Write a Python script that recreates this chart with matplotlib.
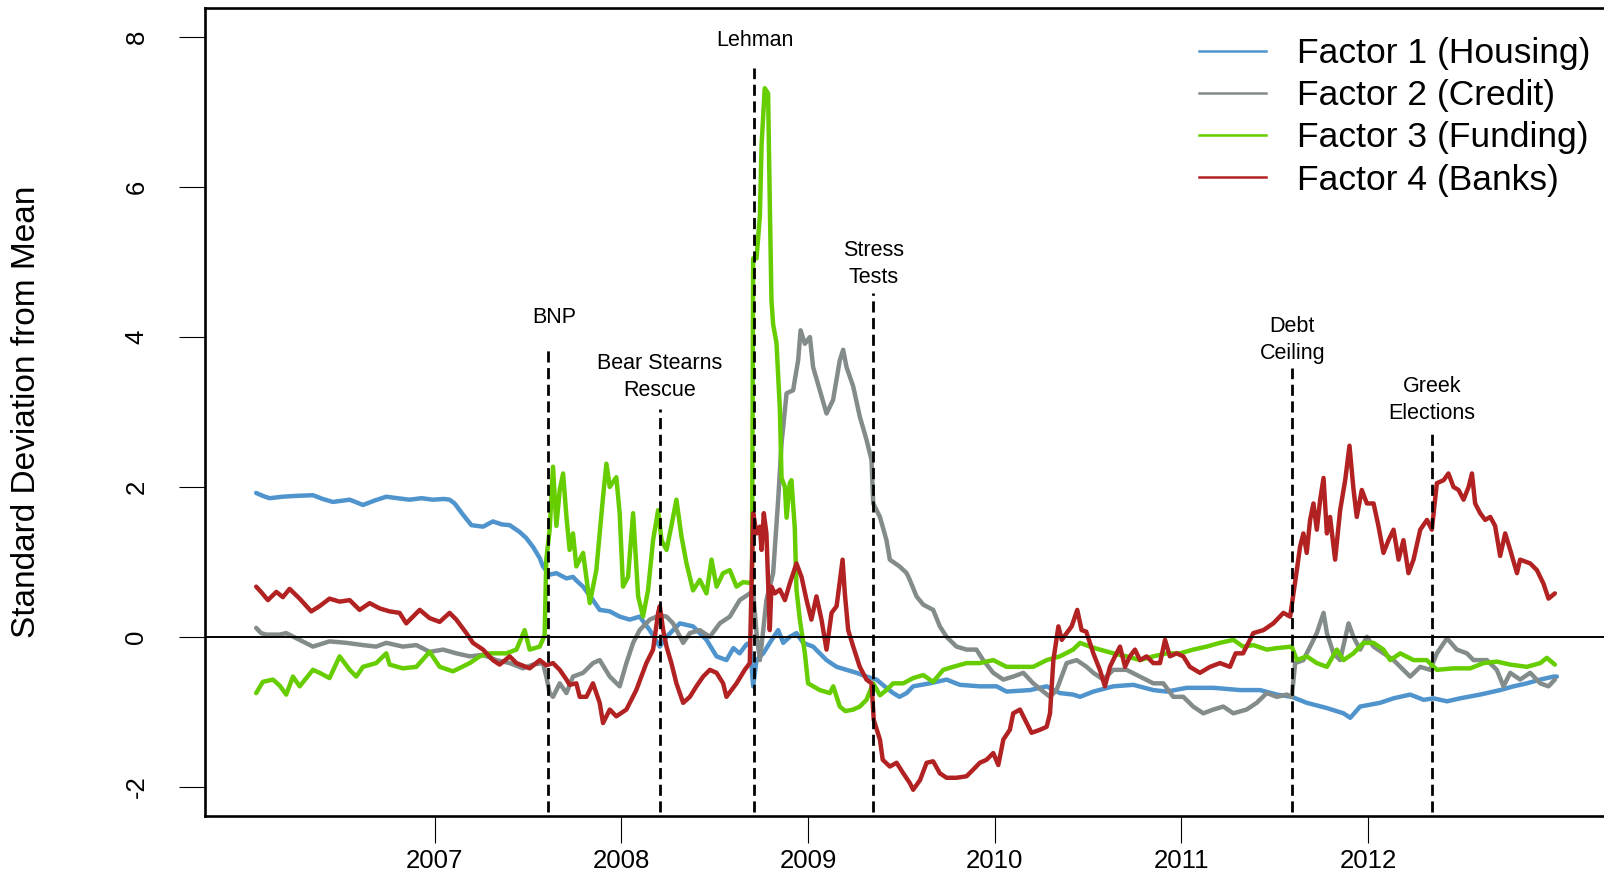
import numpy as np
import matplotlib.pyplot as plt
from matplotlib.lines import Line2D

plt.rcParams['font.family'] = ['Liberation Sans', 'DejaVu Sans']

# factor scores, decimal year vs. standard deviations from mean
housing_t = [2006.044, 2006.08, 2006.116, 2006.187, 2006.25, 2006.348, 2006.40, 2006.455, 2006.545,
             2006.616, 2006.68, 2006.741, 2006.80, 2006.866, 2006.93, 2006.99, 2007.05, 2007.08,
             2007.107, 2007.152, 2007.197, 2007.259, 2007.312, 2007.36, 2007.402, 2007.455, 2007.49,
             2007.527, 2007.563, 2007.58, 2007.616, 2007.652, 2007.706, 2007.741, 2007.76, 2007.795,
             2007.848, 2007.884, 2007.938, 2007.991, 2008.045, 2008.098, 2008.152, 2008.206, 2008.242,
             2008.313, 2008.384, 2008.456, 2008.51, 2008.563, 2008.60, 2008.634, 2008.67, 2008.688,
             2008.706, 2008.724, 2008.76, 2008.795, 2008.84, 2008.867, 2008.902, 2008.938, 2008.974,
             2009.027, 2009.063, 2009.099, 2009.153, 2009.206, 2009.26, 2009.313, 2009.367, 2009.41,
             2009.456, 2009.49, 2009.528, 2009.563, 2009.652, 2009.742, 2009.813, 2009.92, 2010.01,
             2010.063, 2010.189, 2010.278, 2010.349, 2010.42, 2010.457, 2010.528, 2010.635, 2010.742,
             2010.849, 2010.921, 2011.028, 2011.171, 2011.314, 2011.421, 2011.511, 2011.591, 2011.671,
             2011.779, 2011.868, 2011.904, 2011.957, 2012.064, 2012.136, 2012.225, 2012.297, 2012.35,
             2012.422, 2012.493, 2012.6, 2012.707, 2012.779, 2012.85, 2012.922, 2012.993, 2013.011]
housing_v = [1.92, 1.88, 1.85, 1.87, 1.88, 1.89, 1.84, 1.80, 1.83,
             1.76, 1.82, 1.87, 1.85, 1.83, 1.85, 1.83, 1.84, 1.83,
             1.78, 1.63, 1.49, 1.47, 1.54, 1.50, 1.49, 1.40, 1.32,
             1.20, 1.05, 0.94, 0.83, 0.85, 0.78, 0.80, 0.75, 0.67,
             0.49, 0.36, 0.34, 0.27, 0.23, 0.27, 0.09, -0.13, 0.00,
             0.18, 0.14, -0.04, -0.26, -0.31, -0.15, -0.22, -0.10, -0.08,
             -0.66, -0.31, -0.22, -0.08, 0.09, -0.08, 0.00, 0.05, -0.08,
             -0.13, -0.22, -0.31, -0.40, -0.44, -0.48, -0.53, -0.57, -0.66,
             -0.75, -0.80, -0.75, -0.66, -0.62, -0.57, -0.64, -0.66, -0.66,
             -0.73, -0.71, -0.66, -0.75, -0.77, -0.80, -0.73, -0.66, -0.64,
             -0.71, -0.73, -0.68, -0.68, -0.71, -0.71, -0.77, -0.80, -0.88,
             -0.95, -1.02, -1.08, -0.93, -0.88, -0.82, -0.77, -0.84, -0.82,
             -0.86, -0.82, -0.77, -0.71, -0.66, -0.62, -0.57, -0.53, -0.53]

credit_t = [2006.044, 2006.07, 2006.098, 2006.169, 2006.205, 2006.277, 2006.348, 2006.437, 2006.527,
            2006.616, 2006.687, 2006.741, 2006.83, 2006.902, 2006.973, 2007.045, 2007.116, 2007.188,
            2007.259, 2007.331, 2007.402, 2007.473, 2007.527, 2007.58, 2007.598, 2007.616, 2007.634,
            2007.67, 2007.706, 2007.741, 2007.795, 2007.848, 2007.884, 2007.938, 2007.991, 2008.027,
            2008.063, 2008.098, 2008.152, 2008.206, 2008.242, 2008.277, 2008.331, 2008.367, 2008.42,
            2008.474, 2008.527, 2008.581, 2008.634, 2008.688, 2008.706, 2008.724, 2008.742, 2008.76,
            2008.777, 2008.813, 2008.84, 2008.858, 2008.885, 2008.92, 2008.947, 2008.96, 2008.983,
            2009.01, 2009.027, 2009.063, 2009.099, 2009.134, 2009.17, 2009.188, 2009.206, 2009.242,
            2009.277, 2009.313, 2009.34, 2009.349, 2009.385, 2009.42, 2009.438, 2009.49, 2009.528,
            2009.545, 2009.581, 2009.617, 2009.67, 2009.706, 2009.742, 2009.795, 2009.849, 2009.902,
            2009.938, 2009.992, 2010.046, 2010.099, 2010.153, 2010.206, 2010.26, 2010.296, 2010.331,
            2010.385, 2010.439, 2010.492, 2010.528, 2010.581, 2010.635, 2010.706, 2010.778, 2010.849,
            2010.903, 2010.956, 2011.01, 2011.063, 2011.117, 2011.171, 2011.224, 2011.278, 2011.349,
            2011.403, 2011.457, 2011.511, 2011.564, 2011.591, 2011.609, 2011.653, 2011.689, 2011.725,
            2011.761, 2011.779, 2011.814, 2011.85, 2011.895, 2011.921, 2011.957, 2011.993, 2012.029,
            2012.082, 2012.136, 2012.189, 2012.225, 2012.279, 2012.332, 2012.368, 2012.422, 2012.475,
            2012.529, 2012.564, 2012.636, 2012.689, 2012.725, 2012.761, 2012.814, 2012.868, 2012.922,
            2012.966, 2013.0]
credit_v = [0.12, 0.05, 0.03, 0.03, 0.05, -0.04, -0.13, -0.06, -0.08,
            -0.11, -0.13, -0.08, -0.13, -0.11, -0.20, -0.17, -0.22, -0.26,
            -0.24, -0.31, -0.35, -0.42, -0.37, -0.35, -0.53, -0.75, -0.80,
            -0.62, -0.75, -0.53, -0.48, -0.35, -0.31, -0.53, -0.66, -0.35,
            -0.08, 0.09, 0.23, 0.29, 0.27, 0.18, -0.08, 0.05, 0.09,
            0.00, 0.18, 0.27, 0.49, 0.58, 0.60, 0.05, -0.31, 0.09,
            0.49, 0.85, 1.83, 2.58, 3.25, 3.29, 3.69, 4.09, 3.91,
            4.00, 3.60, 3.29, 2.98, 3.16, 3.69, 3.83, 3.60, 3.34,
            2.94, 2.63, 2.36, 1.78, 1.60, 1.29, 1.03, 0.94, 0.85,
            0.76, 0.54, 0.43, 0.36, 0.14, 0.00, -0.13, -0.17, -0.17,
            -0.31, -0.48, -0.57, -0.53, -0.48, -0.62, -0.73, -0.80, -0.71,
            -0.35, -0.31, -0.40, -0.48, -0.57, -0.44, -0.44, -0.53, -0.62,
            -0.62, -0.80, -0.80, -0.93, -1.02, -0.97, -0.93, -1.02, -0.97,
            -0.88, -0.75, -0.80, -0.77, -0.80, -0.35, -0.31, -0.13, 0.05,
            0.32, 0.05, -0.22, -0.31, 0.18, 0.00, -0.17, 0.00, -0.13,
            -0.22, -0.31, -0.44, -0.53, -0.40, -0.44, -0.22, -0.02, -0.17,
            -0.22, -0.31, -0.31, -0.44, -0.66, -0.48, -0.57, -0.48, -0.62,
            -0.66, -0.57]

funding_t = [2006.044, 2006.08, 2006.134, 2006.17, 2006.205, 2006.241, 2006.277, 2006.348, 2006.384,
             2006.437, 2006.491, 2006.545, 2006.58, 2006.616, 2006.687, 2006.741, 2006.759, 2006.83,
             2006.902, 2006.973, 2007.027, 2007.098, 2007.188, 2007.241, 2007.295, 2007.384, 2007.438,
             2007.482, 2007.509, 2007.563, 2007.589, 2007.598, 2007.616, 2007.634, 2007.652, 2007.67,
             2007.688, 2007.706, 2007.723, 2007.741, 2007.759, 2007.795, 2007.831, 2007.866, 2007.902,
             2007.92, 2007.938, 2007.973, 2007.991, 2008.009, 2008.036, 2008.063, 2008.09, 2008.116,
             2008.143, 2008.17, 2008.197, 2008.215, 2008.242, 2008.268, 2008.295, 2008.322, 2008.349,
             2008.384, 2008.42, 2008.456, 2008.483, 2008.51, 2008.545, 2008.581, 2008.617, 2008.652,
             2008.688, 2008.70, 2008.706, 2008.724, 2008.742, 2008.751, 2008.768, 2008.786, 2008.795,
             2008.804, 2008.813, 2008.831, 2008.849, 2008.858, 2008.876, 2008.885, 2008.902, 2008.911,
             2008.929, 2008.938, 2008.956, 2008.983, 2009.0, 2009.063, 2009.117, 2009.135, 2009.17,
             2009.2, 2009.242, 2009.277, 2009.313, 2009.349, 2009.385, 2009.42, 2009.456, 2009.51,
             2009.563, 2009.617, 2009.67, 2009.724, 2009.777, 2009.849, 2009.92, 2009.992, 2010.063,
             2010.135, 2010.206, 2010.278, 2010.349, 2010.42, 2010.457, 2010.51, 2010.563, 2010.635,
             2010.706, 2010.778, 2010.849, 2010.921, 2010.992, 2011.063, 2011.135, 2011.206, 2011.278,
             2011.33, 2011.385, 2011.457, 2011.511, 2011.591, 2011.618, 2011.671, 2011.725, 2011.779,
             2011.832, 2011.868, 2011.921, 2011.975, 2012.029, 2012.082, 2012.118, 2012.172, 2012.243,
             2012.314, 2012.368, 2012.457, 2012.547, 2012.618, 2012.689, 2012.761, 2012.85, 2012.922,
             2012.957, 2013.0]
funding_v = [-0.75, -0.60, -0.57, -0.65, -0.77, -0.53, -0.66, -0.44, -0.48,
             -0.55, -0.26, -0.44, -0.53, -0.40, -0.35, -0.22, -0.37, -0.42,
             -0.40, -0.20, -0.40, -0.46, -0.35, -0.26, -0.22, -0.22, -0.17,
             0.09, -0.17, -0.13, 0.02, 1.03, 1.43, 2.27, 1.48, 1.96,
             2.18, 1.60, 1.16, 1.38, 0.94, 1.12, 0.45, 0.89, 1.87,
             2.31, 2.00, 2.13, 1.65, 0.67, 0.80, 1.65, 0.54, 0.27,
             0.62, 1.29, 1.69, 1.29, 1.16, 1.48, 1.83, 1.34, 0.98,
             0.62, 0.76, 0.58, 1.03, 0.67, 0.85, 0.89, 0.67, 0.73,
             0.72, 0.75, 5.05, 5.05, 5.62, 6.56, 7.32, 7.25, 5.81,
             4.49, 4.17, 3.92, 3.04, 2.12, 2.00, 1.59, 2.05, 2.09,
             1.45, 0.63, 0.23, -0.22, -0.62, -0.71, -0.75, -0.66, -0.93,
             -0.99, -0.97, -0.93, -0.84, -0.62, -0.78, -0.71, -0.62, -0.62,
             -0.55, -0.51, -0.60, -0.44, -0.40, -0.35, -0.35, -0.31, -0.40,
             -0.40, -0.40, -0.31, -0.26, -0.17, -0.08, -0.13, -0.17, -0.22,
             -0.26, -0.31, -0.26, -0.22, -0.22, -0.17, -0.13, -0.08, -0.04,
             -0.13, -0.11, -0.17, -0.15, -0.13, -0.31, -0.26, -0.35, -0.40,
             -0.17, -0.31, -0.22, -0.08, -0.08, -0.17, -0.31, -0.22, -0.31,
             -0.31, -0.44, -0.42, -0.42, -0.35, -0.33, -0.37, -0.40, -0.35,
             -0.28, -0.37]

banks_t = [2006.044, 2006.07, 2006.107, 2006.152, 2006.187, 2006.223, 2006.277, 2006.339, 2006.384,
           2006.437, 2006.491, 2006.545, 2006.598, 2006.652, 2006.705, 2006.759, 2006.812, 2006.848,
           2006.92, 2006.973, 2007.027, 2007.08, 2007.116, 2007.17, 2007.205, 2007.259, 2007.312,
           2007.348, 2007.402, 2007.438, 2007.509, 2007.563, 2007.598, 2007.634, 2007.67, 2007.706,
           2007.723, 2007.759, 2007.777, 2007.813, 2007.848, 2007.884, 2007.902, 2007.938, 2007.973,
           2008.027, 2008.08, 2008.134, 2008.17, 2008.197, 2008.206, 2008.224, 2008.242, 2008.268,
           2008.295, 2008.331, 2008.367, 2008.402, 2008.438, 2008.474, 2008.51, 2008.545, 2008.563,
           2008.617, 2008.661, 2008.688, 2008.706, 2008.724, 2008.742, 2008.751, 2008.763, 2008.777,
           2008.795, 2008.804, 2008.822, 2008.849, 2008.876, 2008.902, 2008.938, 2008.965, 2008.992,
           2009.018, 2009.045, 2009.072, 2009.099, 2009.126, 2009.153, 2009.185, 2009.197, 2009.215,
           2009.242, 2009.277, 2009.313, 2009.34, 2009.352, 2009.385, 2009.40, 2009.438, 2009.474,
           2009.51, 2009.545, 2009.563, 2009.6, 2009.635, 2009.67, 2009.706, 2009.742, 2009.795,
           2009.849, 2009.885, 2009.92, 2009.956, 2009.992, 2010.019, 2010.046, 2010.081, 2010.099,
           2010.135, 2010.171, 2010.197, 2010.242, 2010.278, 2010.296, 2010.314, 2010.341, 2010.359,
           2010.385, 2010.412, 2010.442, 2010.465, 2010.49, 2010.528, 2010.563, 2010.59, 2010.617,
           2010.644, 2010.671, 2010.698, 2010.724, 2010.751, 2010.778, 2010.813, 2010.849, 2010.885,
           2010.912, 2010.938, 2010.974, 2011.01, 2011.045, 2011.099, 2011.153, 2011.206, 2011.26,
           2011.29, 2011.33, 2011.385, 2011.439, 2011.492, 2011.546, 2011.582, 2011.6, 2011.618,
           2011.635, 2011.653, 2011.671, 2011.689, 2011.707, 2011.725, 2011.743, 2011.761, 2011.779,
           2011.796, 2011.823, 2011.85, 2011.877, 2011.9, 2011.921, 2011.939, 2011.966, 2011.993,
           2012.029, 2012.055, 2012.082, 2012.109, 2012.136, 2012.163, 2012.189, 2012.216, 2012.243,
           2012.279, 2012.315, 2012.341, 2012.368, 2012.404, 2012.43, 2012.457, 2012.484, 2012.511,
           2012.538, 2012.556, 2012.573, 2012.6, 2012.627, 2012.654, 2012.68, 2012.707, 2012.734,
           2012.761, 2012.797, 2012.814, 2012.868, 2012.904, 2012.939, 2012.966, 2013.0]
banks_v = [0.67, 0.60, 0.49, 0.60, 0.53, 0.64, 0.51, 0.34, 0.41,
           0.51, 0.47, 0.49, 0.36, 0.45, 0.38, 0.34, 0.32, 0.18,
           0.36, 0.25, 0.20, 0.32, 0.23, 0.05, -0.08, -0.17, -0.31,
           -0.37, -0.26, -0.35, -0.42, -0.31, -0.38, -0.35, -0.44, -0.57,
           -0.64, -0.62, -0.80, -0.80, -0.62, -0.88, -1.15, -0.97, -1.06,
           -0.97, -0.71, -0.35, -0.17, 0.32, 0.41, 0.09, -0.13, -0.35,
           -0.62, -0.88, -0.80, -0.66, -0.53, -0.44, -0.48, -0.62, -0.80,
           -0.62, -0.44, -0.35, 1.65, 1.38, 1.47, 1.16, 1.65, 1.38,
           0.09, 0.67, 0.58, 0.63, 0.49, 0.71, 0.98, 0.80, 0.49,
           0.23, 0.54, 0.23, -0.17, 0.32, 0.41, 1.03, 0.58, 0.09,
           -0.13, -0.40, -0.57, -0.62, -1.11, -1.37, -1.64, -1.73, -1.68,
           -1.82, -1.95, -2.04, -1.91, -1.68, -1.66, -1.82, -1.88, -1.88,
           -1.86, -1.77, -1.68, -1.64, -1.55, -1.71, -1.37, -1.24, -1.02,
           -0.97, -1.15, -1.28, -1.24, -1.20, -1.02, -0.31, 0.14, -0.04,
           0.05, 0.14, 0.36, 0.09, 0.07, -0.22, -0.44, -0.66, -0.40,
           -0.26, -0.13, -0.40, -0.26, -0.17, -0.31, -0.26, -0.35, -0.35,
           -0.04, -0.26, -0.22, -0.26, -0.40, -0.48, -0.40, -0.35, -0.40,
           -0.22, -0.22, 0.05, 0.09, 0.18, 0.32, 0.27, 0.58, 0.89,
           1.20, 1.38, 1.12, 1.56, 1.78, 1.43, 1.83, 2.12, 1.38,
           1.60, 1.03, 1.69, 2.09, 2.55, 1.98, 1.60, 1.96, 1.78,
           1.78, 1.48, 1.12, 1.29, 1.43, 1.03, 1.29, 0.85, 1.03,
           1.43, 1.56, 1.43, 2.05, 2.09, 2.18, 2.00, 1.96, 1.83,
           2.00, 2.18, 1.78, 1.65, 1.56, 1.60, 1.48, 1.08, 1.38,
           1.16, 0.85, 1.03, 0.98, 0.89, 0.71, 0.51, 0.58]

series_names = ['Factor 1 (Housing)', 'Factor 2 (Credit)', 'Factor 3 (Funding)', 'Factor 4 (Banks)']
colors = ['#4F94CD', '#838B8B', '#66CD00', '#B22222']

# events marked with dashed lines
event_labels = ['BNP', 'Bear Stearns\nRescue', 'Lehman', 'Stress\nTests', 'Debt\nCeiling', 'Greek\nElections']
event_t = [2007.606, 2008.205, 2008.713, 2009.350, 2011.594, 2012.343]
event_top = [3.88, 3.04, 7.59, 4.59, 3.59, 2.72]
label_y = [4.12, 3.15, 7.81, 4.65, 3.64, 2.84]
label_dx = [5, 0, 0, 0, 0, 0]   # horizontal nudge of the label, points

years = [2007, 2008, 2009, 2010, 2011, 2012]
yticks = [-2, 0, 2, 4, 6, 8]

fig = plt.figure(figsize=(16.04, 8.76), dpi=100)
ax = fig.add_axes([205 / 1604, 60 / 876, 1404 / 1604, 808 / 876])

data = [(housing_t, housing_v), (credit_t, credit_v), (funding_t, funding_v), (banks_t, banks_v)]
for (t, v), c in zip(data, colors):
    ax.plot(t, v, color=c, lw=3.2, solid_joinstyle='round', solid_capstyle='round')

ax.axhline(0, color='black', lw=1.4)
ax.vlines(event_t, -3, event_top, colors='black', linestyles=(0, (4, 2)), lw=2.0)
for t, ly, lab, dx in zip(event_t, label_y, event_labels, label_dx):
    ax.annotate(lab, (t, ly), xytext=(dx, 0), textcoords='offset points',
                ha='center', va='bottom', fontsize=15.5, linespacing=1.38)

ax.set_xlim(2005.77, 2013.29)
ax.set_ylim(-2.39, 8.39)
ax.set_xticks(years)
ax.set_xticklabels([str(y) for y in years])
ax.set_yticks(yticks)
ax.set_yticklabels([str(y) for y in yticks])
ax.tick_params(axis='x', length=19.4, width=0.8, pad=4.5, labelsize=18.5)
ax.tick_params(axis='y', length=18.7, width=0.8, pad=22, labelsize=18.5, labelrotation=90)
for lbl in ax.get_yticklabels():
    lbl.set_va('center')
for s in ax.spines.values():
    s.set_linewidth(1.9)

fig.text(26.5 / 1604, 1 - 412 / 876, 'Standard Deviation from Mean', rotation=90,
         ha='center', va='center', fontsize=24)

handles = [Line2D([], [], color=c, lw=1.8) for c in colors]
ax.legend(handles, series_names, loc='upper left', bbox_to_anchor=(1199 / 1604, 1 - 37 / 876),
          bbox_transform=fig.transFigure, frameon=False, fontsize=25.5, handlelength=1.9,
          handletextpad=0.87, labelspacing=0.26, borderpad=0, borderaxespad=0)

fig.savefig('out.png', dpi=100)
